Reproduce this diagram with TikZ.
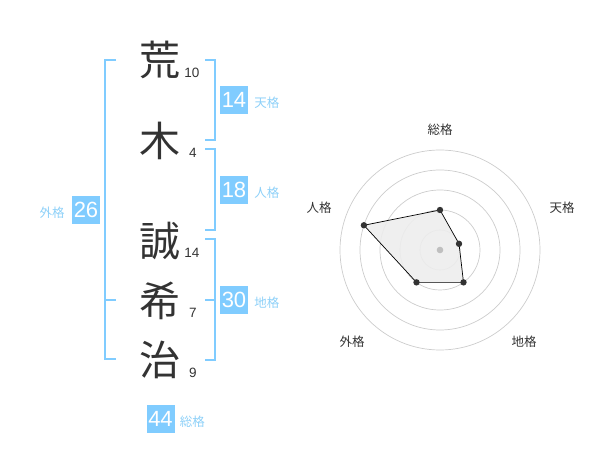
\documentclass[tikz,border=0pt]{standalone}
\usepackage{fontspec}
\setmainfont{Liberation Sans}
\newfontfamily\jp{Noto Sans CJK JP}
\usepackage{tikz}
\usetikzlibrary{positioning}
\definecolor{Kakublue}{HTML}{80CCFF}
\definecolor{Kakulabel}{HTML}{8DD0F8}
\definecolor{Inkgray}{HTML}{333333}
\definecolor{Ringgray}{HTML}{CCCCCC}
\tikzstyle{kanji} = [
    inner sep=0pt,
    text=Inkgray,
    font=\jp\fontsize{41}{41}\selectfont
]
\tikzstyle{strokes} = [
    inner sep=0pt,
    text=Inkgray,
    font=\fontsize{13.5}{13.5}\selectfont
]
\tikzstyle{score} = [
    fill=Kakublue,
    text=white,
    minimum size=28pt,
    inner sep=0pt,
    font=\fontsize{22}{22}\selectfont
]
\tikzstyle{kaku} = [
    inner sep=0pt,
    text=Kakulabel,
    font=\jp\fontsize{12.5}{12.5}\selectfont
]
\tikzstyle{bracket} = [
    Kakublue,
    line width=2pt
]
\tikzstyle{axis} = [
    inner sep=0pt,
    text=Inkgray,
    font=\jp\fontsize{12.5}{12.5}\selectfont
]

\begin{document}
\begin{tikzpicture}[x=1pt,y=-1pt]
    \useasboundingbox (0,0) rectangle (600,470);
    % Name
    \node[kanji] (ara) at (160,60) {荒};
    \node[kanji] (ki) at (160,141) {木};
    \node[kanji] (sei) at (160,241) {誠};
    \node[kanji] (ki2) at (160,301) {希};
    \node[kanji] (ji) at (160,360) {治};
    % Stroke counts
    \node[strokes] (nara) at (192,73) {10};
    \node[strokes] (nki) at (193,153) {4};
    \node[strokes] (nsei) at (192,253) {14};
    \node[strokes] (nki2) at (193,313) {7};
    \node[strokes] (nji) at (193,373) {9};
    % Brackets
    \draw[bracket] (116,60) -- (105,60) -- (105,359) -- (116,359);
    \draw[bracket] (105,300) -- (116,300);
    \draw[bracket] (205,60) -- (215,60) -- (215,140) -- (205,140);
    \draw[bracket] (205,149) -- (215,149) -- (215,230) -- (205,230);
    \draw[bracket] (205,239) -- (215,239) -- (215,360) -- (205,360);
    \draw[bracket] (205,300) -- (215,300);
    % Scores
    \node[score] (tenkaku) at (234,100) {14};
    \node[kaku, right=6pt of tenkaku, yshift=-3pt] (tenkakul) {天格};
    \node[score] (jinkaku) at (234,190) {18};
    \node[kaku, right=6pt of jinkaku, yshift=-3pt] (jinkakul) {人格};
    \node[score] (chikaku) at (234,300) {30};
    \node[kaku, right=6pt of chikaku, yshift=-3pt] (chikakul) {地格};
    \node[score] (gaikaku) at (86,210) {26};
    \node[kaku, left=7pt of gaikaku, yshift=-3pt] (gaikakul) {外格};
    \node[score] (sokaku) at (160.5,419) {44};
    \node[kaku, right=5pt of sokaku, yshift=-3pt] (sokakul) {総格};
    % Radar chart
    \begin{scope}[shift={(440,250)}]
        \foreach \r in {20,40,60,80,100}
            \draw[Ringgray, line width=0.7pt] (0,0) circle (\r pt);
        \coordinate (rso) at (90:40pt);
        \coordinate (rten) at (18:20pt);
        \coordinate (rchi) at (-54:40pt);
        \coordinate (rgai) at (234:40pt);
        \coordinate (rjin) at (162:80pt);
        \filldraw[fill=black!7, fill opacity=0.9, draw=black, line width=0.7pt]
            (rso) -- (rten) -- (rchi) -- (rgai) -- (rjin) -- cycle;
        \fill[black!25] (0,0) circle (3.3pt);
        \foreach \p in {rso,rten,rchi,rgai,rjin}
            \fill[Inkgray] (\p) circle (3.2pt);
    \end{scope}
    % Axis labels
    \node[axis] (lso) at (440,130) {総格};
    \node[axis] (lten) at (562,208) {天格};
    \node[axis] (lchi) at (524,342) {地格};
    \node[axis] (lgai) at (352,342) {外格};
    \node[axis] (ljin) at (319,208) {人格};
\end{tikzpicture}
\end{document}
